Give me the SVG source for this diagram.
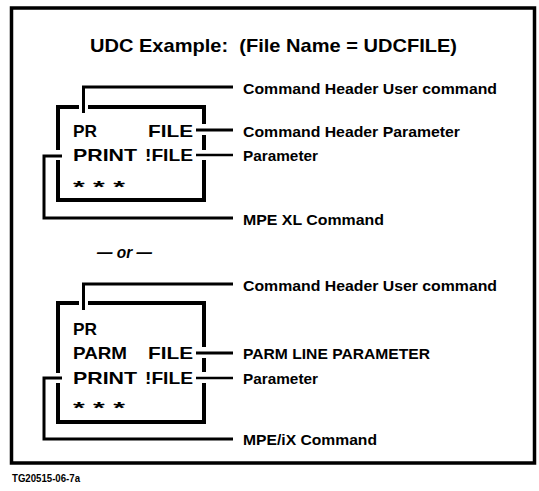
<svg xmlns="http://www.w3.org/2000/svg" width="539" height="491" viewBox="0 0 539 491">
<style>
text{font-family:"Liberation Sans",Arial,Helvetica,sans-serif;font-weight:bold;fill:#000}
.box{fill:none;stroke:#000;stroke-width:4}
.con{fill:none;stroke:#000;stroke-width:3}
.thin{fill:none;stroke:#000;stroke-width:2.5}
.frame{fill:none;stroke:#000;stroke-width:3.5}
.lbl{font-size:15.5px}
.sm{font-size:14px}
.bt{font-size:16.5px}
</style>
<rect width="539" height="491" fill="#fff"/>
<g id="frame"><rect class="frame" x="11.5" y="8" width="523" height="455"/></g>
<g id="title"><text x="90" y="52" font-size="19" xml:space="preserve" textLength="367" lengthAdjust="spacingAndGlyphs">UDC Example:  (File Name = UDCFILE)</text></g>

<g id="box1">
<path class="box" d="M58,150 V107 H79 M88,107 H204 V124 M204,135 V150 M204,160 V200 H58 V160"/>
<text class="bt" y="137"><tspan x="73" textLength="24" lengthAdjust="spacingAndGlyphs">PR</tspan> <tspan x="148" textLength="45" lengthAdjust="spacingAndGlyphs">FILE</tspan></text>
<text class="bt" y="161"><tspan x="73" textLength="64" lengthAdjust="spacingAndGlyphs">PRINT</tspan> <tspan x="145" textLength="48" lengthAdjust="spacingAndGlyphs">!FILE</tspan></text>
<text class="bt" x="73" y="193" textLength="52" lengthAdjust="spacingAndGlyphs">* * *</text>
</g>

<g id="box2">
<path class="box" d="M58,373 V303 H79 M88,303 H204 V347 M204,358 V372 M204,383 V422 H58 V383"/>
<text class="bt" x="73" y="335" textLength="24" lengthAdjust="spacingAndGlyphs">PR</text>
<text class="bt" y="359"><tspan x="73" textLength="54" lengthAdjust="spacingAndGlyphs">PARM</tspan> <tspan x="148" textLength="45" lengthAdjust="spacingAndGlyphs">FILE</tspan></text>
<text class="bt" y="384"><tspan x="73" textLength="64" lengthAdjust="spacingAndGlyphs">PRINT</tspan> <tspan x="145" textLength="48" lengthAdjust="spacingAndGlyphs">!FILE</tspan></text>
<text class="bt" x="73" y="414" textLength="52" lengthAdjust="spacingAndGlyphs">* * *</text>
</g>

<g id="or"><text x="97" y="258" font-size="16" font-weight="normal" font-style="italic" textLength="55" lengthAdjust="spacingAndGlyphs">— or —</text></g>

<g id="connectors">
<path class="con" d="M233,87 H83.5 V113"/>
<path class="con" d="M196,130 H233"/>
<path class="thin" d="M196,155 H233"/>
<path class="con" d="M62,156 H44 V218 H233"/>
<path class="con" d="M233,284 H83.5 V310"/>
<path class="con" d="M196,353 H233"/>
<path class="thin" d="M196,378 H233"/>
<path class="con" d="M62,378 H44 V439 H233"/>
</g>

<g id="label-b1-header"><text class="lbl" x="243" y="93.5" textLength="254" lengthAdjust="spacingAndGlyphs">Command Header User command</text></g>
<g id="label-b1-param"><text class="lbl" x="243" y="136.5" textLength="217" lengthAdjust="spacingAndGlyphs">Command Header Parameter</text></g>
<g id="label-b1-parameter"><text class="sm" x="243" y="161" textLength="75" lengthAdjust="spacingAndGlyphs">Parameter</text></g>
<g id="label-b1-mpe"><text class="lbl" x="243" y="224.5" textLength="141" lengthAdjust="spacingAndGlyphs">MPE XL Command</text></g>
<g id="label-b2-header"><text class="lbl" x="243" y="290.5" textLength="254" lengthAdjust="spacingAndGlyphs">Command Header User command</text></g>
<g id="label-b2-parm"><text class="lbl" x="243" y="358.5" textLength="187" lengthAdjust="spacingAndGlyphs">PARM LINE PARAMETER</text></g>
<g id="label-b2-parameter"><text class="sm" x="243" y="384" textLength="75" lengthAdjust="spacingAndGlyphs">Parameter</text></g>
<g id="label-b2-mpe"><text class="lbl" x="243" y="444.5" textLength="134" lengthAdjust="spacingAndGlyphs">MPE/iX Command</text></g>

<g id="figid"><text x="12" y="482" font-size="11" textLength="68" lengthAdjust="spacingAndGlyphs">TG20515-06-7a</text></g>
</svg>
